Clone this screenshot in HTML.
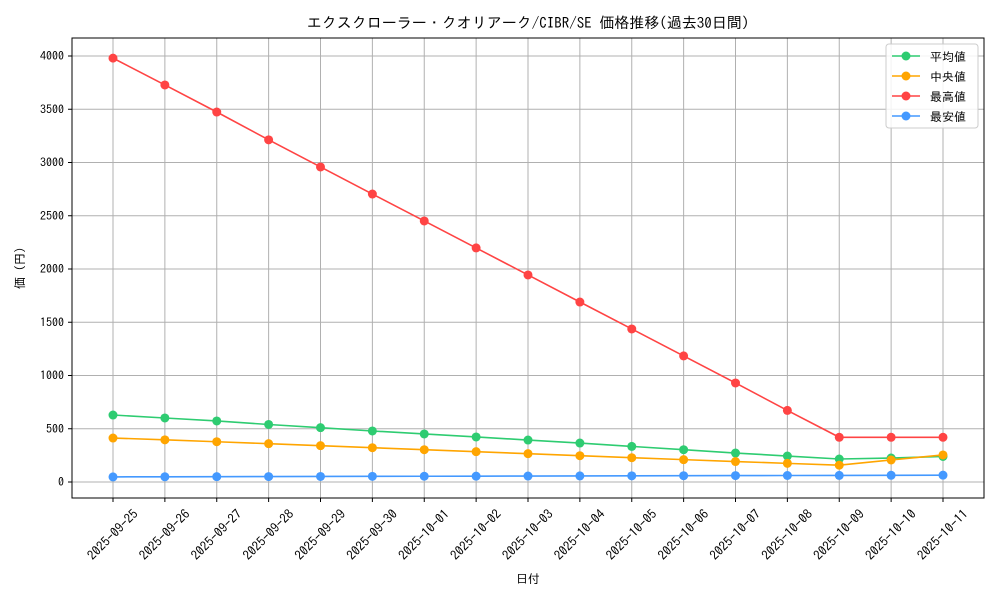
<!DOCTYPE html>
<html><head><meta charset="utf-8">
<style>
html,body{margin:0;padding:0;background:#fff;}
svg{display:block;font-family:"IPAGothic","Liberation Sans","Noto Sans CJK JP",sans-serif;}
</style></head>
<body>
<svg id="chart" width="1000" height="600" viewBox="0 0 1000 600">
<text x="528" y="28" text-anchor="middle" font-size="15">エクスクローラー・クオリアーク/CIBR/SE 価格推移(過去30日間)</text>
<g id="grid"></g>
<rect x="72" y="38" width="912" height="460" fill="none" stroke="#000" stroke-width="1"/>
<g id="axes"></g>
<g id="series"></g>
<text x="528" y="583" text-anchor="middle" font-size="12">日付</text>
<text transform="translate(24,268) rotate(-90)" text-anchor="middle" font-size="12">価 (円)</text>
<g id="legend"></g>
</svg>
<script>
const categories=["2025-09-25","2025-09-26","2025-09-27","2025-09-28","2025-09-29","2025-09-30","2025-10-01","2025-10-02","2025-10-03","2025-10-04","2025-10-05","2025-10-06","2025-10-07","2025-10-08","2025-10-09","2025-10-10","2025-10-11"];
const meanValues=[629,601,573,540,510,479,451,423,394,366,334,303,272,244,216,225,240];
const medianValues=[413,396,378,360,341,322,303,285,266,247,228,210,192,175,158,207,254];
const maxValues=[3980,3728,3474,3213,2958,2704,2451,2198,1944,1690,1437,1184,930,672,420,420,420];
const minValues=[48,49,50,51,52,53,54,55,56,57,58,59,60,61,62,63,64];
const yTicks=[0,500,1000,1500,2000,2500,3000,3500,4000];
const seriesNames=["平均値","中央値","最高値","最安値"];
const seriesColors=["#2ecc71","#ffa500","#ff4444","#4499ff"];
const ns="http://www.w3.org/2000/svg";
function X(i){return 113+i*(943-113)/(categories.length-1);}
function Y(v){return 482-v*0.1065;}
function mk(tag,attrs,parent){const e=document.createElementNS(ns,tag);for(const k in attrs)e.setAttribute(k,attrs[k]);parent.appendChild(e);return e;}
const grid=document.getElementById('grid'),axes=document.getElementById('axes'),ser=document.getElementById('series'),leg=document.getElementById('legend');
categories.forEach((c,i)=>{
  const l=mk('line',{x1:X(i),x2:X(i),y1:38,y2:498,stroke:'#b0b0b0','stroke-width':1},grid);
  
  
  mk('line',{x1:X(i),x2:X(i),y1:498,y2:502,stroke:'#000'},axes);
  const t=mk('text',{x:0,y:4,'font-size':13,'text-anchor':'middle',transform:`translate(${X(i)},${535}) rotate(-45)`},axes);
  t.textContent=c;
  
  
});
yTicks.forEach(v=>{
  const l=mk('line',{x1:72,x2:984,y1:Y(v),y2:Y(v),stroke:'#b0b0b0','stroke-width':1},grid);
  
  
  mk('line',{x1:68,x2:72,y1:Y(v),y2:Y(v),stroke:'#000'},axes);
  const t=mk('text',{x:64,y:Y(v)+4,'font-size':12,'text-anchor':'end'},axes);
  t.textContent=v;
  
  
});
const allSeries=[meanValues,medianValues,maxValues,minValues];
allSeries.forEach((vals,s)=>{
  const g=mk('g',{},ser);
  
  
  mk('polyline',{points:vals.map((v,i)=>X(i)+','+Y(v)).join(' '),fill:'none',stroke:seriesColors[s],'stroke-width':1.6},g);
  vals.forEach((v,i)=>{
    const c=mk('circle',{cx:X(i),cy:Y(v),r:4.5,fill:seriesColors[s]},g);
    
    
  });
});
const box=mk('rect',{x:886,y:44,width:92,height:84,rx:3,fill:'#fff','fill-opacity':0.85,stroke:'#ccc'},leg);


seriesNames.forEach((n,s)=>{
  const y=56+s*20;
  const g=mk('g',{},leg);
  
  
  mk('line',{x1:892,x2:920,y1:y,y2:y,stroke:seriesColors[s],'stroke-width':1.6},g);
  mk('circle',{cx:906,cy:y,r:4.5,fill:seriesColors[s]},g);
  const t=mk('text',{x:930,y:y+5,'font-size':12},g);
  t.textContent=n;
});
</script>
</body></html>
